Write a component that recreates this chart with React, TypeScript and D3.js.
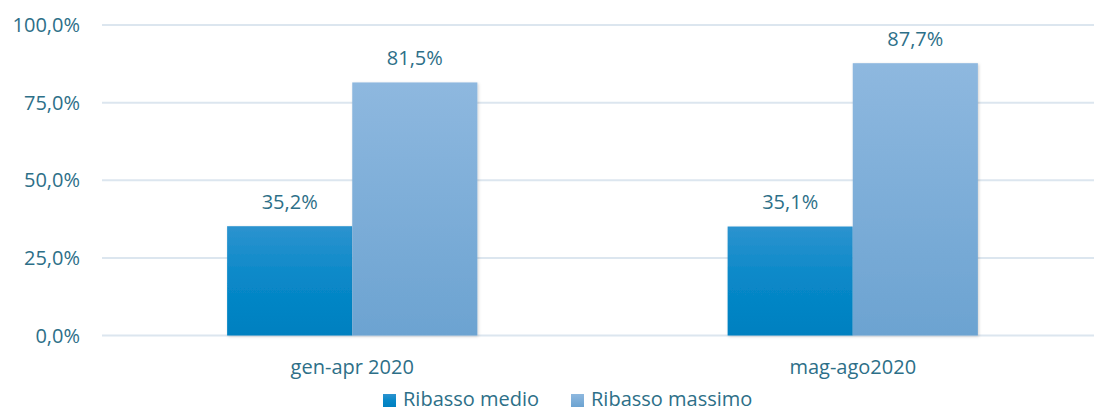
import React from "react";
import * as d3 from "d3";

const categories = ["gen-apr 2020", "mag-ago2020"];
const seriesNames = ["Ribasso medio", "Ribasso massimo"];
const ribassoMedio = [35.2, 35.1];
const ribassoMassimo = [81.5, 87.7];
const yTicks = [0, 25, 50, 75, 100];

const W = 1094;
const H = 412;
const FONT = "'Open Sans', 'Noto Sans', sans-serif";
const TEXT = "#2d6f88";
const FS = 20;

export default function App() {
  const x = d3.scaleBand<string>().domain(categories).range([102, 1103]).padding(0);
  const bw = x.bandwidth();
  const inner = d3.scaleBand<string>().domain(seriesNames).range([bw * 0.25, bw * 0.75]).padding(0);
  const y = d3.scaleLinear().domain([0, 100]).range([335.5, 25]);
  const fmtTick = (v: number) => v.toFixed(1).replace(".", ",") + "%";
  const fmtVal = (v: number) => v.toFixed(1).replace(".", ",") + "%";
  const series = [ribassoMedio, ribassoMassimo];
  const grads = ["gMedio", "gMassimo"];
  const legendX = [383, 571];

  return (
    <svg width={W} height={H} style={{ position: "absolute", left: 0, top: 0, display: "block" }}>
      <defs>
        <linearGradient id="gMedio" x1="0" y1="0" x2="0" y2="1">
          <stop offset="0%" stopColor="#2c93cf" />
          <stop offset="50%" stopColor="#0888c8" />
          <stop offset="100%" stopColor="#0080c0" />
        </linearGradient>
        <linearGradient id="gMassimo" x1="0" y1="0" x2="0" y2="1">
          <stop offset="0%" stopColor="#8eb8df" />
          <stop offset="100%" stopColor="#6ca3d1" />
        </linearGradient>
        <filter id="shadow" x="-10%" y="-10%" width="120%" height="120%">
          <feDropShadow dx="1" dy="1" stdDeviation="1.5" floodColor="#000" floodOpacity="0.18" />
        </filter>
      </defs>
      <rect width={W} height={H} fill="#fff" />
      {yTicks.map((t) => (
        <g key={t}>
          <line x1={102} x2={W} y1={y(t)} y2={y(t)} stroke="#dce6ef" strokeWidth={2} />
          <text x={80} y={y(t) + 7} textAnchor="end" fontFamily={FONT} fontSize={FS} fill={TEXT}>
            {fmtTick(t)}
          </text>
        </g>
      ))}
      {categories.map((c, ci) => (
        <g key={c} transform={`translate(${x(c)},0)`}>
          {seriesNames.map((s, si) => {
            const v = series[si][ci];
            const bx = inner(s)!;
            return (
              <g key={s}>
                <rect
                  x={bx}
                  y={y(v)}
                  width={inner.bandwidth()}
                  height={y(0) - y(v)}
                  fill={`url(#${grads[si]})`}
                  filter="url(#shadow)"
                />
                <text
                  x={bx + inner.bandwidth() / 2}
                  y={y(v) - 17.5}
                  textAnchor="middle"
                  fontFamily={FONT}
                  fontSize={FS}
                  fill={TEXT}
                >
                  {fmtVal(v)}
                </text>
              </g>
            );
          })}
          <text x={bw / 2} y={374} textAnchor="middle" fontFamily={FONT} fontSize={FS} fill={TEXT}>
            {c}
          </text>
        </g>
      ))}
      {seriesNames.map((s, si) => (
        <g key={s} transform={`translate(${legendX[si]},0)`}>
          <rect x={0} y={394} width={13} height={13} fill={`url(#${grads[si]})`} />
          <text x={20} y={406} fontFamily={FONT} fontSize={FS} fill={TEXT}>
            {s}
          </text>
        </g>
      ))}
    </svg>
  );
}
